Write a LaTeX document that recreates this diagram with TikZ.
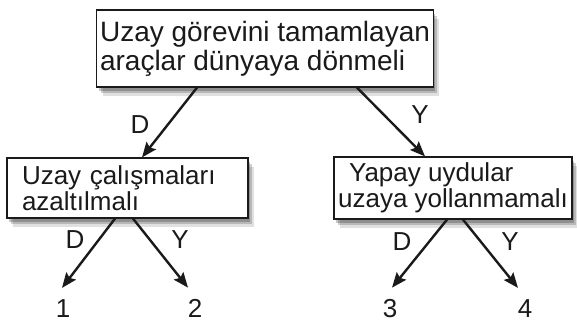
\documentclass[tikz,border=0pt]{standalone}
\usepackage{fontspec}
\setmainfont{Liberation Sans}
\usetikzlibrary{arrows.meta,shadows}
\definecolor{ink}{HTML}{1A1A1A}
\tikzset{
  boxshadow/.style={
    general shadow={shadow xshift=2pt,shadow yshift=-4pt,fill=black,opacity=.22},
    general shadow={shadow xshift=4pt,shadow yshift=-6pt,fill=black,opacity=.18},
    general shadow={shadow xshift=6pt,shadow yshift=-9pt,fill=black,opacity=.12}},
  decbox/.style={draw=ink,line width=1.2pt,fill=white,rectangle,inner ysep=0pt,boxshadow,text=ink},
  arr/.style={draw=ink,line width=2.4pt,-{Stealth[length=15pt,width=12pt,inset=2.5pt]}},
  lbl/.style={font=\fontsize{26}{26}\selectfont,text=ink,inner sep=0pt},
  num/.style={font=\fontsize{26}{26}\selectfont,text=ink,inner sep=0pt,anchor=base}
}
\begin{document}
\begin{tikzpicture}[x=1pt,y=-1pt]
\useasboundingbox (0,0) rectangle (577,324);
\node[decbox,minimum width=330pt,minimum height=77pt,align=left,
      font=\fontsize{28}{29}\selectfont] (top) at (265,48.5)
  {Uzay görevini tamamlayan\\araçlar dünyaya dönmeli};
\node[decbox,minimum width=241pt,minimum height=60pt,align=left,text width=211pt,inner xsep=15pt,
      font=\fontsize{26}{26}\selectfont] (left) at (127.5,188)
  {Uzay çalışmaları\\azaltılmalı};
\node[decbox,minimum width=238pt,minimum height=62pt,align=left,inner xsep=0pt,
      font=\fontsize{26}{26}\selectfont] (right) at (453,188)
  {\hspace*{11pt}Yapay uydular\\uzaya yollanmamalı};
\node[num] (n1) at (63,317) {1};
\node[num] (n2) at (195,317) {2};
\node[num] (n3) at (390,317) {3};
\node[num] (n4) at (525,317) {4};
\draw[arr] ([xshift=-68pt]top.south) -- ([xshift=14.5pt]left.north);
\draw[arr] ([xshift=92pt]top.south) -- ([xshift=-28pt]right.north);
\draw[arr] ([xshift=-12.5pt]left.south) -- ([xshift=-1pt,yshift=11pt]n1.north);
\draw[arr] ([xshift=5.5pt]left.south) -- ([xshift=-7pt,yshift=11pt]n2.north);
\draw[arr] ([xshift=-6pt]right.south) -- ([xshift=2pt,yshift=11pt]n3.north);
\draw[arr] ([xshift=10pt]right.south) -- ([xshift=-7pt,yshift=11pt]n4.north);
\node[lbl] (d1) at (140,125) {D};
\node[lbl] (y1) at (420,115) {Y};
\node[lbl] (d2) at (75,240) {D};
\node[lbl] (y2) at (180,240) {Y};
\node[lbl] (d3) at (402,242) {D};
\node[lbl] (y3) at (510,242) {Y};
\end{tikzpicture}
\end{document}
